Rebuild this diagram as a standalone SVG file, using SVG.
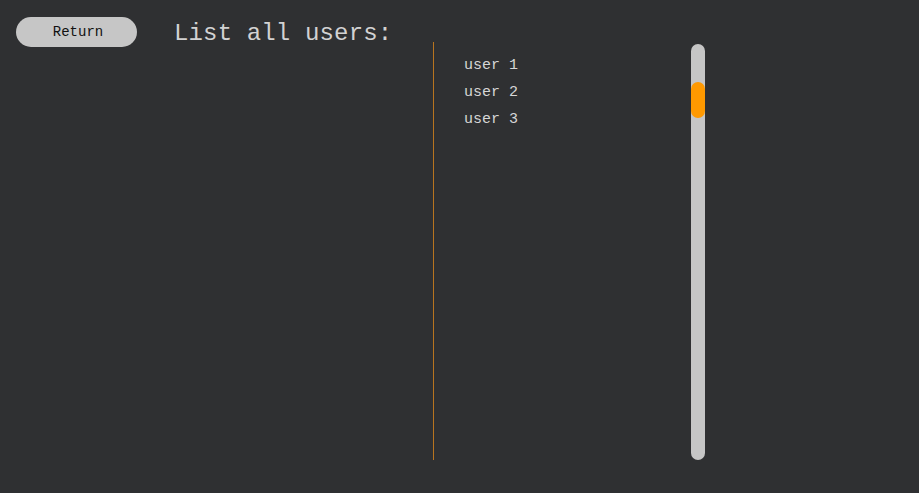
<svg xmlns="http://www.w3.org/2000/svg" width="919" height="493" viewBox="0 0 919 493">
<style>
.mono{font-family:"Liberation Mono","DejaVu Sans Mono",monospace}
.item{font-size:15px;fill:#d6d6d6}
</style>
<rect x="0" y="0" width="919" height="493" fill="#2f3032"/>
<g id="return-button">
<rect x="16" y="17" width="121" height="30" rx="15" fill="#c6c6c6"/>
<text class="mono" x="78" y="36" font-size="14" text-anchor="middle" fill="#111">Return</text>
</g>
<g id="title">
<text class="mono" x="174" y="40" font-size="24" letter-spacing="0.15" fill="#d2d2d2">List all users:</text>
</g>
<g id="divider">
<line x1="433.5" y1="42" x2="433.5" y2="460" stroke="#b8741f" stroke-width="1"/>
</g>
<g id="user-list">
<text class="mono item" x="464" y="69">user 1</text>
<text class="mono item" x="464" y="96">user 2</text>
<text class="mono item" x="464" y="123">user 3</text>
</g>
<g id="scrollbar">
<rect x="691" y="44" width="14" height="416" rx="7" fill="#c6c6c6"/>
<rect x="691" y="82" width="14" height="36" rx="7" fill="#ff9900"/>
</g>
</svg>
